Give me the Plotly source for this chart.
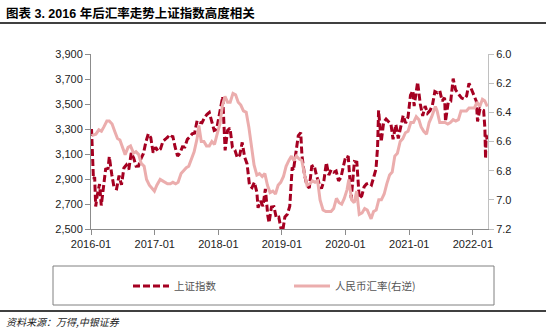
import plotly.graph_objects as go

sh_dates = ["2016-01-04","2016-01-08","2016-01-15","2016-01-22","2016-01-28","2016-02-05","2016-02-19","2016-02-29",
"2016-03-11","2016-03-25","2016-04-08","2016-04-15","2016-04-29","2016-05-13","2016-05-27","2016-06-10","2016-06-24",
"2016-07-08","2016-07-22","2016-08-05","2016-08-19","2016-09-02","2016-09-16","2016-09-30","2016-10-14","2016-10-28",
"2016-11-11","2016-11-25","2016-12-09","2016-12-23",
"2017-01-06","2017-01-20","2017-02-03","2017-02-17","2017-03-03","2017-03-17","2017-03-31","2017-04-14","2017-04-28",
"2017-05-12","2017-05-26","2017-06-09","2017-06-23","2017-07-07","2017-07-21","2017-08-04","2017-08-18","2017-09-01",
"2017-09-15","2017-09-29","2017-10-13","2017-10-27","2017-11-10","2017-11-24","2017-12-08","2017-12-22",
"2018-01-05","2018-01-19","2018-01-26","2018-02-09","2018-02-23","2018-03-09","2018-03-23","2018-04-06","2018-04-20",
"2018-05-04","2018-05-18","2018-06-01","2018-06-15","2018-06-29","2018-07-13","2018-07-27","2018-08-10","2018-08-17",
"2018-08-31","2018-09-14","2018-09-28","2018-10-12","2018-10-19","2018-11-02","2018-11-16","2018-11-30","2018-12-14",
"2018-12-28",
"2019-01-04","2019-01-18","2019-02-01","2019-02-15","2019-02-22","2019-03-01","2019-03-08","2019-03-22","2019-04-05",
"2019-04-19","2019-04-26","2019-05-10","2019-05-24","2019-06-07","2019-06-21","2019-07-05","2019-07-19","2019-08-02",
"2019-08-16","2019-08-30","2019-09-13","2019-09-27","2019-10-11","2019-10-25","2019-11-08","2019-11-22","2019-12-06",
"2019-12-20",
"2020-01-03","2020-01-17","2020-01-23","2020-02-03","2020-02-21","2020-03-06","2020-03-20","2020-04-03","2020-04-17",
"2020-04-30","2020-05-15","2020-05-29","2020-06-12","2020-06-24","2020-07-03","2020-07-09","2020-07-24","2020-08-07",
"2020-08-21","2020-09-04","2020-09-18","2020-09-30","2020-10-16","2020-10-30","2020-11-13","2020-11-27","2020-12-11",
"2020-12-25",
"2021-01-08","2021-01-22","2021-01-29","2021-02-18","2021-03-05","2021-03-19","2021-04-02","2021-04-16","2021-04-30",
"2021-05-14","2021-05-28","2021-06-11","2021-06-25","2021-07-09","2021-07-23","2021-07-28","2021-08-13","2021-08-27",
"2021-09-10","2021-09-24","2021-10-15","2021-10-29","2021-11-12","2021-11-26","2021-12-10","2021-12-24",
"2022-01-07","2022-01-21","2022-01-28","2022-02-11","2022-02-25","2022-03-04","2022-03-11","2022-03-15","2022-03-18",
"2022-03-25"]
sh_values = [3300,3186,2900,2916,2680,2763,2860,2688,
2810,2979,2985,3078,2938,2827,2821,2927,2854,
2988,3012,2976,3108,3067,3003,3004,3063,3104,
3196,3261,3232,3110,
3154,3123,3140,3202,3218,3237,3222,3246,3154,
3083,3107,3158,3157,3217,3237,3262,3268,3367,
3353,3349,3390,3416,3432,3353,3289,3297,
3391,3488,3558,3129,3289,3307,3152,3131,3071,
3091,3193,3075,3021,2847,2831,2873,2795,2669,
2725,2682,2821,2606,2550,2676,2679,2588,2594,
2494,
2470,2596,2618,2682,2804,2994,2969,3104,3247,
3271,3086,2939,2852,2827,3001,3011,2924,2868,
2823,2886,3031,2932,2973,2954,2964,2885,2912,
3004,
3083,3075,2977,2746,3039,3034,2745,2764,2838,
2860,2868,2852,2920,2980,3152,3450,3197,3354,
3380,3355,3338,3218,3336,3225,3310,3408,3347,
3396,
3570,3606,3483,3675,3502,3405,3484,3426,3447,
3490,3600,3590,3607,3524,3550,3361,3516,3522,
3703,3613,3572,3547,3539,3564,3666,3618,
3580,3522,3361,3462,3451,3447,3310,3063,3251,
3212]

fx_dates = ["2016-01-04","2016-01-29","2016-02-15","2016-03-01","2016-03-15","2016-04-01","2016-04-15","2016-05-01",
"2016-05-16","2016-06-01","2016-06-15","2016-07-01","2016-07-15","2016-08-01","2016-08-15","2016-09-01","2016-09-15",
"2016-10-01","2016-10-15","2016-11-01","2016-11-15","2016-12-01","2016-12-15","2016-12-30",
"2017-01-13","2017-02-01","2017-02-15","2017-03-01","2017-03-15","2017-04-01","2017-04-15","2017-05-01","2017-05-15",
"2017-06-01","2017-06-15","2017-07-01","2017-07-15","2017-08-01","2017-08-15","2017-09-01","2017-09-11","2017-09-25",
"2017-10-10","2017-10-25","2017-11-10","2017-11-25","2017-12-10","2017-12-25",
"2018-01-10","2018-01-25","2018-02-08","2018-02-23","2018-03-10","2018-03-26","2018-04-10","2018-04-25","2018-05-10",
"2018-05-25","2018-06-10","2018-06-25","2018-07-10","2018-07-25","2018-08-10","2018-08-25","2018-09-10","2018-09-25",
"2018-10-10","2018-10-25","2018-11-10","2018-11-25","2018-12-10","2018-12-25",
"2019-01-10","2019-01-25","2019-02-10","2019-02-25","2019-03-10","2019-03-25","2019-04-10","2019-04-25","2019-05-10",
"2019-05-25","2019-06-10","2019-06-25","2019-07-10","2019-07-25","2019-08-08","2019-08-25","2019-09-10","2019-09-25",
"2019-10-10","2019-10-25","2019-11-10","2019-11-25","2019-12-10","2019-12-25",
"2020-01-10","2020-01-20","2020-02-05","2020-02-20","2020-03-05","2020-03-20","2020-04-05","2020-04-20","2020-05-05",
"2020-05-27","2020-06-10","2020-06-25","2020-07-10","2020-07-25","2020-08-10","2020-08-25","2020-09-10","2020-09-25",
"2020-10-10","2020-10-25","2020-11-10","2020-11-25","2020-12-10","2020-12-25",
"2021-01-10","2021-01-25","2021-02-10","2021-02-25","2021-03-10","2021-03-25","2021-04-10","2021-04-25","2021-05-10",
"2021-05-31","2021-06-10","2021-06-25","2021-07-10","2021-07-25","2021-08-10","2021-08-25","2021-09-10","2021-09-25",
"2021-10-10","2021-10-25","2021-11-10","2021-11-25","2021-12-10","2021-12-25",
"2022-01-10","2022-01-25","2022-02-10","2022-02-25","2022-03-10","2022-03-25"]
fx_values = [6.56,6.55,6.52,6.53,6.50,6.46,6.46,6.48,
6.53,6.58,6.59,6.64,6.69,6.64,6.63,6.68,6.67,
6.69,6.75,6.77,6.86,6.90,6.92,6.94,
6.90,6.86,6.87,6.88,6.89,6.89,6.88,6.89,6.88,
6.82,6.80,6.78,6.77,6.72,6.67,6.58,6.49,6.60,
6.60,6.63,6.63,6.60,6.62,6.55,
6.48,6.35,6.29,6.33,6.33,6.27,6.28,6.33,6.35,
6.39,6.40,6.50,6.65,6.76,6.83,6.82,6.84,6.82,
6.90,6.95,6.94,6.96,6.90,6.88,
6.84,6.77,6.73,6.70,6.73,6.70,6.72,6.73,6.82,
6.90,6.89,6.87,6.88,6.87,7.00,7.07,7.08,7.08,
7.08,7.06,6.99,7.02,7.03,6.99,
6.93,6.86,7.00,7.02,6.94,7.10,7.09,7.06,7.07,
7.13,7.08,7.07,7.00,7.00,6.96,6.89,6.83,6.81,
6.70,6.68,6.60,6.58,6.54,6.53,
6.47,6.47,6.43,6.45,6.50,6.53,6.55,6.47,6.43,
6.36,6.39,6.47,6.47,6.47,6.48,6.47,6.45,6.46,
6.45,6.39,6.39,6.39,6.37,6.37,
6.37,6.33,6.36,6.31,6.32,6.36]

left_ticks = [2500, 2700, 2900, 3100, 3300, 3500, 3700, 3900]
right_ticks = [6.0, 6.2, 6.4, 6.6, 6.8, 7.0, 7.2]
x_ticks = ["2016-01-01","2017-01-01","2018-01-01","2019-01-01","2020-01-01","2021-01-01","2022-01-01"]
x_labels = ["2016-01","2017-01","2018-01","2019-01","2020-01","2021-01","2022-01"]

RED = "#A50021"
PINK = "#EBADAD"
FONT = "Liberation Sans, Arial, Noto Sans CJK SC, sans-serif"
CJK = "Noto Sans CJK SC, sans-serif"

fig = go.Figure()
fig.add_trace(go.Scatter(x=sh_dates, y=sh_values, name="上证指数", mode="lines",
                         line=dict(color=RED, width=3, dash="7px,3px"), yaxis="y"))
fig.add_trace(go.Scatter(x=fx_dates, y=fx_values, name="人民币汇率(右逆)", mode="lines",
                         line=dict(color=PINK, width=3), yaxis="y2"))

L, R, T, B = 91, 488, 54, 229
W, H = 546, 331
pw, ph = R - L, B - T
def px(x): return (x - L) / pw
def py(y): return (B - y) / ph

fig.update_layout(
    width=W, height=H,
    margin=dict(l=L, r=W - R, t=T, b=H - B),
    paper_bgcolor="white", plot_bgcolor="white",
    showlegend=True,
    legend=dict(orientation="h", x=px(128), y=py(286), xanchor="left", yanchor="middle",
                font=dict(family=CJK, size=10.5, color="#555555"),
                entrywidth=110, entrywidthmode="pixels", itemwidth=36,
                bgcolor="rgba(0,0,0,0)", traceorder="normal"),
    xaxis=dict(type="date", range=["2016-01-01", "2022-03-29"],
               tickvals=x_ticks, ticktext=x_labels,
               showgrid=False, zeroline=False, showline=True, linecolor="#8C8C8C", linewidth=1,
               ticks="outside", ticklen=5, tickcolor="#8C8C8C",
               tickfont=dict(family=FONT, size=11, color="#222222")),
    yaxis=dict(range=[2500, 3900], tickvals=left_ticks, tickformat=",",
               showgrid=False, zeroline=False, showline=True, linecolor="#8C8C8C", linewidth=1,
               ticks="outside", ticklen=5, tickcolor="#8C8C8C",
               tickfont=dict(family=FONT, size=11, color="#222222")),
    yaxis2=dict(range=[7.2, 6.0], tickvals=right_ticks, tickformat=".1f", overlaying="y", side="right",
                showgrid=False, zeroline=False, showline=True, linecolor="#C0C0C0", linewidth=1,
                ticks="outside", ticklen=5, tickcolor="#C0C0C0",
                tickfont=dict(family=FONT, size=11, color="#222222")),
    shapes=[
        dict(type="line", xref="paper", yref="paper", x0=px(0), x1=px(W), y0=py(23), y1=py(23),
             line=dict(color="black", width=1.5)),
        dict(type="line", xref="paper", yref="paper", x0=px(0), x1=px(W), y0=py(311), y1=py(311),
             line=dict(color="black", width=1.5)),
        dict(type="rect", xref="paper", yref="paper", x0=px(53), x1=px(494), y0=py(305), y1=py(266),
             line=dict(color="#808080", width=1), fillcolor="rgba(0,0,0,0)"),
    ],
    annotations=[
        dict(text="<b>图表 3. 2016 年后汇率走势上证指数高度相关</b>", xref="paper", yref="paper",
             x=px(4), y=py(14), xanchor="left", yanchor="middle", showarrow=False,
             font=dict(family=FONT, size=12.5, color="black")),
        dict(text="<i>资料来源：万得,中银证券</i>", xref="paper", yref="paper",
             x=px(4), y=py(321), xanchor="left", yanchor="middle", showarrow=False,
             font=dict(family=CJK, size=10, color="#222222")),
    ],
)

fig.write_html("out.html")
